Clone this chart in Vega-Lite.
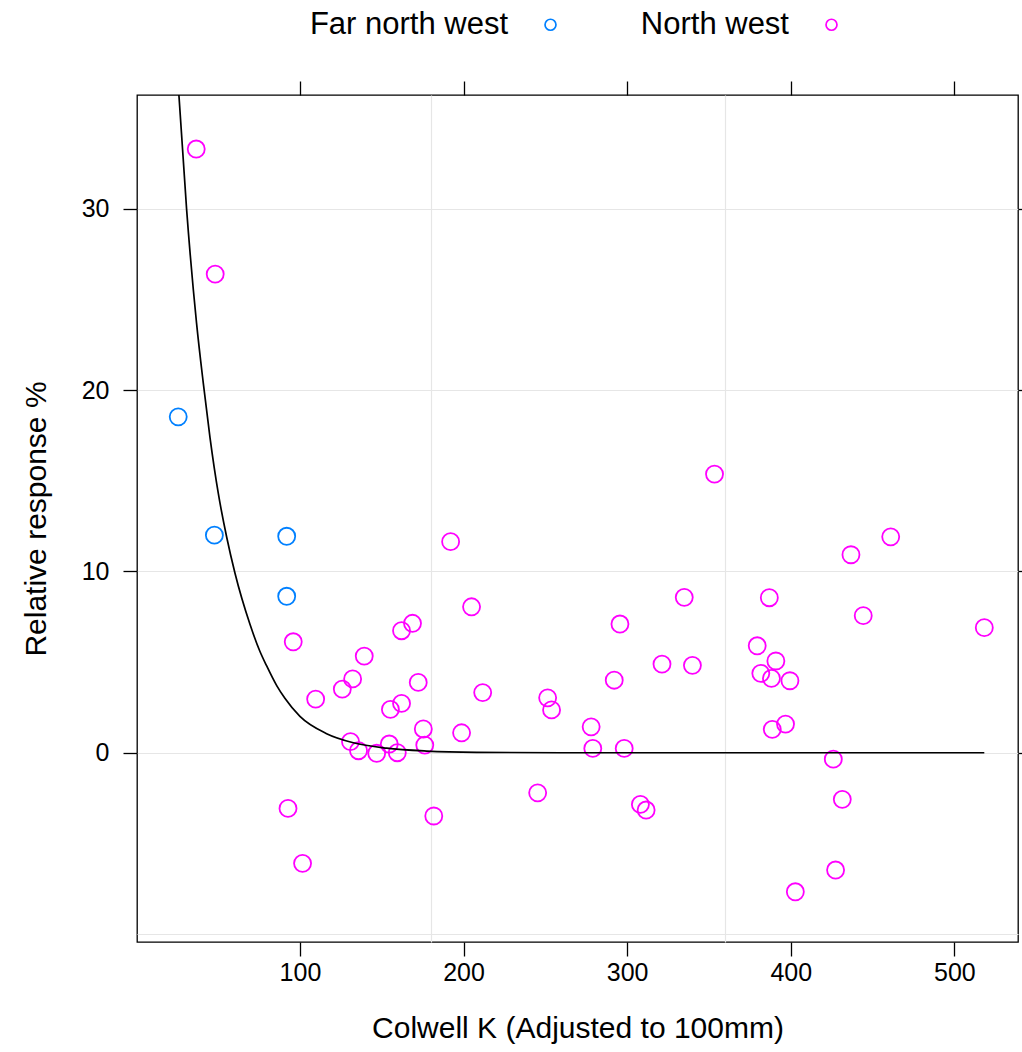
{
  "$schema": "https://vega.github.io/schema/vega-lite/v6.json",
  "width": 881,
  "height": 847,
  "autosize": {"type": "none"},
  "padding": {"left": 137, "top": 95, "right": 4, "bottom": 110},
  "background": "white",
  "config": {
    "view": {"stroke": "black", "strokeWidth": 1.3},
    "font": "Liberation Sans",
    "axis": {"labelFont": "Liberation Sans", "titleFont": "Liberation Sans", "labelColor": "black", "titleColor": "black", "titleFontWeight": "normal", "tickColor": "black", "tickWidth": 1.3, "domain": false}
  },
  "datasets": {
    "pts": [
      {"region": "Far north west", "colwell": 25.6, "response": 18.53},
      {"region": "Far north west", "colwell": 47.7, "response": 12.0},
      {"region": "Far north west", "colwell": 91.9, "response": 11.94},
      {"region": "Far north west", "colwell": 91.9, "response": 8.63},
      {"region": "North west", "colwell": 36.6, "response": 33.3},
      {"region": "North west", "colwell": 48.2, "response": 26.4},
      {"region": "North west", "colwell": 192.1, "response": 11.64},
      {"region": "North west", "colwell": 204.9, "response": 8.05},
      {"region": "North west", "colwell": 95.9, "response": 6.12},
      {"region": "North west", "colwell": 168.8, "response": 7.14},
      {"region": "North west", "colwell": 162.1, "response": 6.73},
      {"region": "North west", "colwell": 139.3, "response": 5.33},
      {"region": "North west", "colwell": 132.2, "response": 4.07},
      {"region": "North west", "colwell": 125.9, "response": 3.51},
      {"region": "North west", "colwell": 109.6, "response": 2.96},
      {"region": "North west", "colwell": 172.3, "response": 3.88},
      {"region": "North west", "colwell": 162.1, "response": 2.72},
      {"region": "North west", "colwell": 155.3, "response": 2.39},
      {"region": "North west", "colwell": 211.7, "response": 3.32},
      {"region": "North west", "colwell": 175.4, "response": 1.31},
      {"region": "North west", "colwell": 198.8, "response": 1.10},
      {"region": "North west", "colwell": 130.9, "response": 0.61},
      {"region": "North west", "colwell": 135.8, "response": 0.11},
      {"region": "North west", "colwell": 146.9, "response": -0.03},
      {"region": "North west", "colwell": 154.6, "response": 0.48},
      {"region": "North west", "colwell": 159.5, "response": 0.0},
      {"region": "North west", "colwell": 176.3, "response": 0.42},
      {"region": "North west", "colwell": 92.7, "response": -3.07},
      {"region": "North west", "colwell": 101.6, "response": -6.1},
      {"region": "North west", "colwell": 181.8, "response": -3.49},
      {"region": "North west", "colwell": 353.4, "response": 15.37},
      {"region": "North west", "colwell": 334.9, "response": 8.57},
      {"region": "North west", "colwell": 295.6, "response": 7.1},
      {"region": "North west", "colwell": 321.3, "response": 4.89},
      {"region": "North west", "colwell": 339.9, "response": 4.82},
      {"region": "North west", "colwell": 292.1, "response": 4.0},
      {"region": "North west", "colwell": 251.4, "response": 3.03},
      {"region": "North west", "colwell": 253.8, "response": 2.36},
      {"region": "North west", "colwell": 278.0, "response": 1.43},
      {"region": "North west", "colwell": 279.0, "response": 0.24},
      {"region": "North west", "colwell": 298.2, "response": 0.24},
      {"region": "North west", "colwell": 245.3, "response": -2.21},
      {"region": "North west", "colwell": 308.1, "response": -2.85},
      {"region": "North west", "colwell": 311.6, "response": -3.16},
      {"region": "North west", "colwell": 461.1, "response": 11.91},
      {"region": "North west", "colwell": 436.8, "response": 10.92},
      {"region": "North west", "colwell": 386.9, "response": 8.55},
      {"region": "North west", "colwell": 444.3, "response": 7.56},
      {"region": "North west", "colwell": 518.3, "response": 6.9},
      {"region": "North west", "colwell": 379.5, "response": 5.9},
      {"region": "North west", "colwell": 390.9, "response": 5.06},
      {"region": "North west", "colwell": 381.7, "response": 4.38},
      {"region": "North west", "colwell": 388.2, "response": 4.1},
      {"region": "North west", "colwell": 399.5, "response": 3.97},
      {"region": "North west", "colwell": 396.8, "response": 1.58},
      {"region": "North west", "colwell": 388.7, "response": 1.29},
      {"region": "North west", "colwell": 426.0, "response": -0.35},
      {"region": "North west", "colwell": 431.5, "response": -2.57},
      {"region": "North west", "colwell": 427.4, "response": -6.47},
      {"region": "North west", "colwell": 402.8, "response": -7.67}
    ],
    "curve": [
      {"colwell": 26.0, "response": 36.3},
      {"colwell": 30.7, "response": 30.0},
      {"colwell": 36.8, "response": 23.7},
      {"colwell": 40.9, "response": 20.4},
      {"colwell": 45.0, "response": 17.4},
      {"colwell": 50.1, "response": 14.3},
      {"colwell": 55.2, "response": 11.9},
      {"colwell": 60.3, "response": 9.9},
      {"colwell": 69.4, "response": 7.1},
      {"colwell": 75.5, "response": 5.6},
      {"colwell": 79.6, "response": 4.8},
      {"colwell": 85.8, "response": 3.7},
      {"colwell": 90.8, "response": 3.0},
      {"colwell": 100.0, "response": 2.0},
      {"colwell": 116.3, "response": 1.05},
      {"colwell": 132.6, "response": 0.55},
      {"colwell": 153.0, "response": 0.25},
      {"colwell": 177.4, "response": 0.09},
      {"colwell": 208.0, "response": 0.02},
      {"colwell": 260.0, "response": 0.0},
      {"colwell": 518.3, "response": 0.0}
    ]
  },
  "layer": [
    {
      "data": {"name": "pts"},
      "mark": {"type": "point", "shape": "circle", "filled": false, "size": 290, "strokeWidth": 1.8, "opacity": 1},
      "encoding": {
        "x": {
          "field": "colwell", "type": "quantitative",
          "scale": {"domain": [0.4, 538.9], "nice": false, "zero": false},
          "axis": {
            "orient": "bottom",
            "values": [100, 180, 200, 300, 360, 400, 500],
            "title": "Colwell K (Adjusted to 100mm)",
            "titleFontSize": 30,
            "titlePadding": 28,
            "labelFontSize": 25,
            "labelPadding": 4,
            "labelOverlap": false,
            "labelFlush": false,
            "tickSize": 14,
            "tickOpacity": {"condition": {"test": "datum.value == 180 || datum.value == 360", "value": 0}, "value": 1},
            "labelExpr": "datum.value == 180 || datum.value == 360 ? '' : datum.label",
            "grid": true,
            "gridColor": "#e6e6e6",
            "gridWidth": 1.2,
            "gridOpacity": {"condition": {"test": "datum.value == 180 || datum.value == 360", "value": 1}, "value": 0}
          }
        },
        "y": {
          "field": "response", "type": "quantitative",
          "scale": {"domain": [-10.44, 36.28], "nice": false, "zero": false},
          "axis": {
            "orient": "left",
            "values": [-10, 0, 10, 20, 30],
            "title": "Relative response %",
            "titleFontSize": 30,
            "titlePadding": 30,
            "labelFontSize": 25,
            "labelPadding": 14,
            "labelOverlap": false,
            "labelFlush": false,
            "tickSize": 14,
            "tickOpacity": {"condition": {"test": "datum.value == -10", "value": 0}, "value": 1},
            "labelExpr": "datum.value == -10 ? '' : datum.label",
            "grid": true,
            "gridColor": "#e6e6e6",
            "gridWidth": 1.2
          }
        },
        "color": {
          "field": "region", "type": "nominal",
          "scale": {"domain": ["Far north west", "North west"], "range": ["#0080ff", "#ff00ff"]},
          "legend": {
            "orient": "none",
            "legendX": 398,
            "legendY": -86,
            "direction": "horizontal",
            "title": null,
            "labelFontSize": 31,
            "labelFont": "Liberation Sans",
            "labelColor": "black",
            "labelAlign": "right",
            "labelOffset": -58,
            "labelLimit": 0,
            "symbolType": "circle",
            "symbolSize": 120,
            "symbolStrokeWidth": 1.7,
            "symbolFillColor": "transparent",
            "columnPadding": 80
          }
        }
      }
    },
    {
      "data": {"name": "curve"},
      "mark": {"type": "line", "color": "black", "strokeWidth": 1.7, "clip": true, "interpolate": "monotone"},
      "encoding": {
        "x": {
          "field": "colwell", "type": "quantitative",
          "axis": {"orient": "top", "values": [100, 200, 300, 400, 500], "labels": false, "title": null, "tickSize": 14, "grid": false}
        },
        "y": {
          "field": "response", "type": "quantitative",
          "axis": {"orient": "right", "values": [0, 10, 20, 30], "labels": false, "title": null, "tickSize": 14, "grid": false}
        }
      }
    }
  ],
  "resolve": {"axis": {"x": "independent", "y": "independent"}}
}
